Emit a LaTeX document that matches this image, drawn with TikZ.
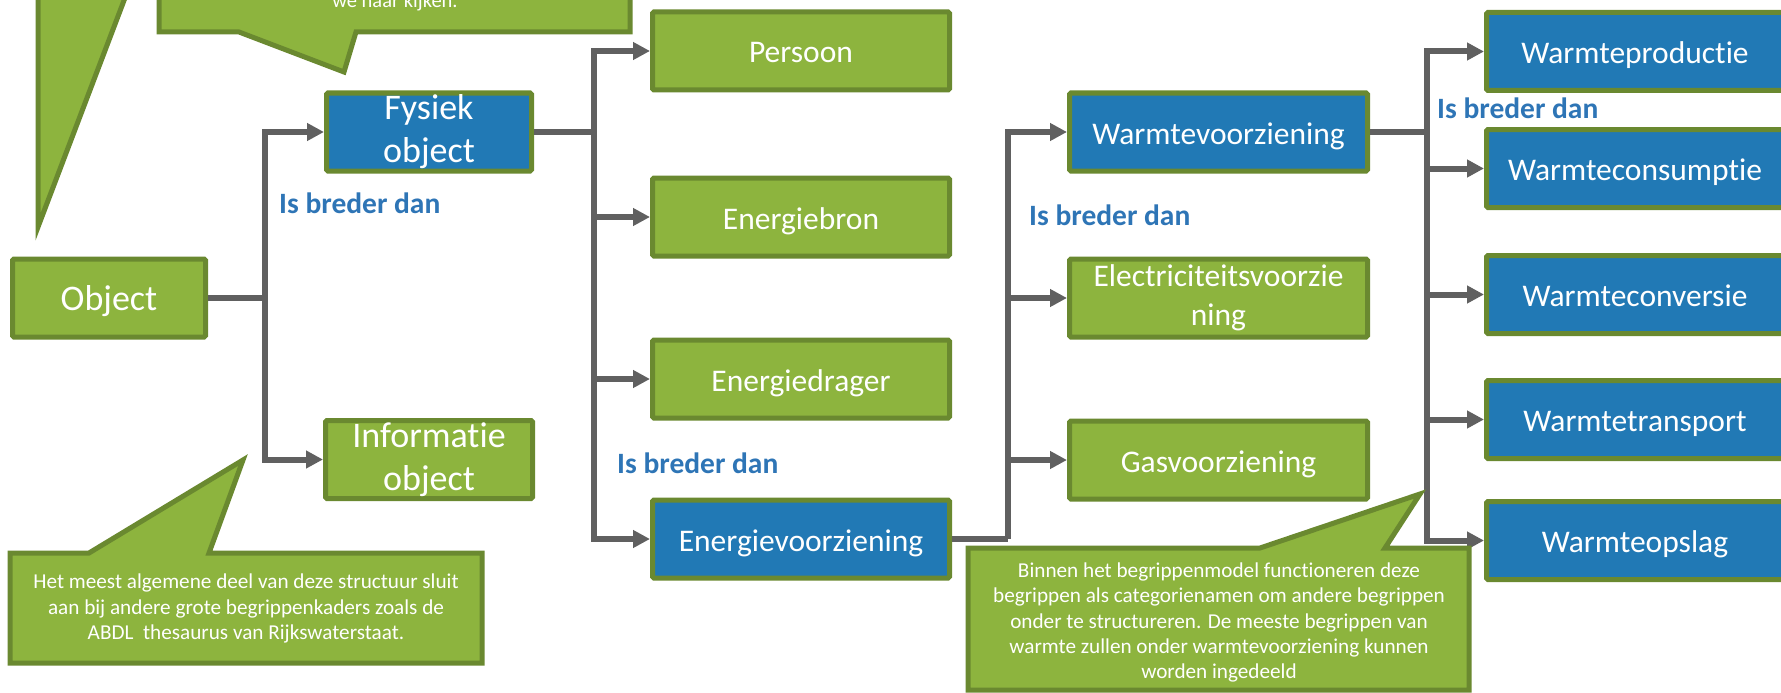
\documentclass[tikz,border=0pt]{standalone}
\usepackage{fontspec}
\setmainfont{Carlito}[Ligatures=NoCommon]
\usetikzlibrary{arrows.meta}
\definecolor{gfill}{RGB}{141,180,62}
\definecolor{gline}{RGB}{106,137,48}
\definecolor{bfill}{RGB}{33,121,181}
\definecolor{cgray}{RGB}{96,96,96}
\definecolor{lblue}{RGB}{46,117,182}
\newcommand\myfs[2]{\fontsize{#1}{#2}\selectfont}
\begin{document}
\begin{tikzpicture}[x=1pt,y=-1pt,
  box/.style={draw=gline, fill=gfill, line width=5pt, rounded corners=1.5pt, text=white, inner sep=0pt, align=center, minimum height=78pt, font=\myfs{31.5}{39}},
  bbox/.style={box, fill=bfill},
  sl/.style={text height=24pt, text depth=0pt},
  big/.style={font=\myfs{36}{43}},
  conn/.style={draw=cgray, line width=6pt},
  arr/.style={conn, -{Triangle[length=17pt,width=17pt]}},
  lbl/.style={text=lblue, font=\bfseries\myfs{29.5}{34}, inner sep=0pt, anchor=base west},
  call/.style={draw=gline, fill=gfill, line width=5pt},
  ctext/.style={text=white, align=center, font=\myfs{21.2}{25.3}, inner sep=0pt}
]
\useasboundingbox (0,0) rectangle (1781,693);
\clip (0,0) rectangle (1781,693);

% boxes
\node[box, big, sl, minimum width=193pt] (obj) at (109,298) {Object};
\node[bbox, big, minimum width=205pt] (fys) at (429,132) {Fysiek\\object};
\node[box, big, minimum width=207pt] (inf) at (429,459.5) {Informatie\\object};

\node[box, sl, minimum width=297pt] (pers) at (801,51) {Persoon};
\node[box, sl, minimum width=297pt] (ebron) at (801,217) {Energiebron};
\node[box, sl, minimum width=297pt] (edrag) at (801,379) {Energiedrager};
\node[bbox, sl, minimum width=297pt] (evoorz) at (801,539) {Energievoorziening};

\node[bbox, sl, minimum width=298pt] (wvoorz) at (1218.5,132) {Warmtevoorziening};
\node[box, minimum width=298pt] (elec) at (1218.5,298) {Electriciteitsvoorzie\\ning};
\node[box, sl, minimum width=298pt] (gas) at (1218.5,460) {Gasvoorziening};

\node[bbox, sl, minimum width=297pt] (wprod) at (1635,51.5) {Warmteproductie};
\node[bbox, sl, minimum width=297pt] (wcons) at (1635,168.5) {Warmteconsumptie};
\node[bbox, sl, minimum width=297pt] (wconv) at (1635,294.5) {Warmteconversie};
\node[bbox, sl, minimum width=297pt] (wtrans) at (1635,419.5) {Warmtetransport};
\node[bbox, sl, minimum width=297pt] (wopsl) at (1635,540.5) {Warmteopslag};

% junctions
\coordinate (j1) at (265,298);
\coordinate (j2) at (594,132);
\coordinate (j3) at (1008,539);
\coordinate (j4) at (1427,132);

% connectors
\draw[conn] (obj.east) -- (j1);
\draw[arr] (j1) |- (fys.west);
\draw[arr] (j1) |- (inf.west);

\draw[conn] (fys.east) -- (j2);
\draw[arr] (j2) |- (pers.west);
\draw[arr] (j2) |- (ebron.west);
\draw[arr] (j2) |- (edrag.west);
\draw[arr] (j2) |- (evoorz.west);

\draw[conn] (evoorz.east) -- (j3);
\draw[arr] (j3) |- (wvoorz.west);
\draw[arr] (j3) |- (elec.west);
\draw[arr] (j3) |- (gas.west);

\draw[conn] (wvoorz.east) -- (j4);
\draw[arr] (j4) |- (wprod.west);
\draw[arr] (j4) |- (wcons.west);
\draw[arr] (j4) |- (wconv.west);
\draw[arr] (j4) |- (wtrans.west);
\draw[arr] (j4) |- (wopsl.west);

% labels
\node[lbl] (l1) at (279,213) {Is breder dan};
\node[lbl] (l2) at (617,473) {Is breder dan};
\node[lbl] (l3) at (1029,225) {Is breder dan};
\node[lbl] (l4) at (1437,118) {Is breder dan};

% callouts
\draw[call] (38,-10) -- (128,-10) -- (38,227) -- cycle;
\draw[call] (159,-20) -- (630,-20) -- (630,32) -- (356,32) -- (344,72) -- (239,32) -- (159,32) -- cycle;
\node[ctext, anchor=base, font=\myfs{20.5}{25}] (t0) at (395,8) {we naar kijken.};

\draw[call] (10,553) -- (89,553) -- (243,460) -- (209,553) -- (482,553) -- (482,663) -- (10,663) -- cycle;
\node[ctext] (t1) at (246,608.5) {Het meest algemene deel van deze structuur sluit\\aan bij andere grote begrippenkaders zoals de\\ABDL\ \ thesaurus van Rijkswaterstaat.};

\draw[call] (968,548) -- (1260,548) -- (1420,494) -- (1385,548) -- (1469,548) -- (1469,690) -- (968,690) -- cycle;
\node[ctext] (t2) at (1219,622.5) {Binnen het begrippenmodel functioneren deze\\begrippen als categorienamen om andere begrippen\\onder te structureren. De meeste begrippen van\\warmte zullen onder warmtevoorziening kunnen\\worden ingedeeld};
\end{tikzpicture}
\end{document}
